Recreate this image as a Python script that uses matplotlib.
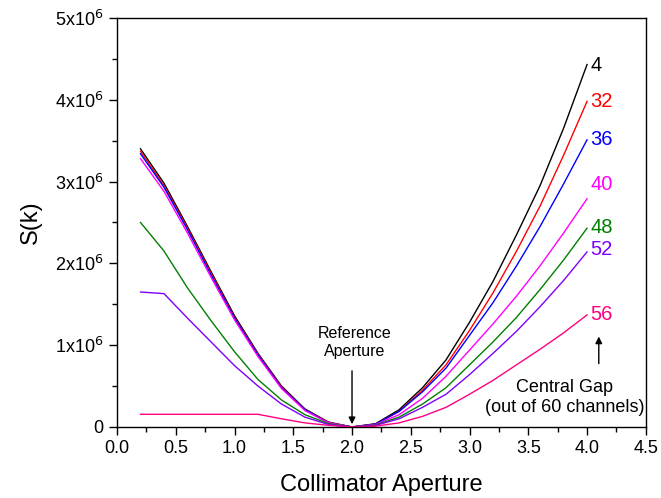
import matplotlib
matplotlib.use("Agg")
import matplotlib.pyplot as plt
from matplotlib.ticker import MultipleLocator, FuncFormatter

plt.rcParams['font.family'] = ['Liberation Sans', 'DejaVu Sans']

aperture = [0.2, 0.4, 0.6, 0.8, 1.0, 1.2, 1.4, 1.6, 1.8, 2.0,
            2.2, 2.4, 2.6, 2.8, 3.0, 3.2, 3.4, 3.6, 3.8, 4.0]

# S(k) in units of 1e6, one list per central gap size
gap_4 = [3.40, 2.98, 2.45, 1.90, 1.36, 0.90, 0.50, 0.22, 0.06, 0.0,
         0.04, 0.21, 0.48, 0.82, 1.28, 1.78, 2.35, 2.95, 3.65, 4.43]
gap_32 = [3.37, 2.95, 2.43, 1.88, 1.34, 0.89, 0.49, 0.21, 0.055, 0.0,
          0.035, 0.19, 0.45, 0.76, 1.18, 1.64, 2.15, 2.70, 3.32, 3.98]
gap_36 = [3.34, 2.93, 2.41, 1.86, 1.33, 0.88, 0.48, 0.21, 0.05, 0.0,
          0.035, 0.19, 0.43, 0.72, 1.12, 1.52, 1.97, 2.45, 2.97, 3.51]
gap_40 = [3.28, 2.88, 2.37, 1.83, 1.31, 0.86, 0.47, 0.20, 0.05, 0.0,
          0.03, 0.15, 0.35, 0.62, 0.94, 1.26, 1.60, 1.97, 2.37, 2.79]
gap_48 = [2.50, 2.15, 1.70, 1.30, 0.92, 0.58, 0.33, 0.15, 0.04, 0.0,
          0.025, 0.12, 0.28, 0.48, 0.76, 1.04, 1.34, 1.68, 2.04, 2.43]
gap_52 = [1.65, 1.63, 1.33, 1.04, 0.75, 0.50, 0.28, 0.12, 0.03, 0.0,
          0.02, 0.10, 0.24, 0.40, 0.64, 0.90, 1.17, 1.47, 1.79, 2.14]
gap_56 = [0.155, 0.155, 0.155, 0.155, 0.155, 0.155, 0.10, 0.05, 0.02, 0.0,
          0.01, 0.05, 0.13, 0.24, 0.40, 0.57, 0.76, 0.95, 1.15, 1.37]

labels = ['4', '32', '36', '40', '48', '52', '56']
series = [gap_4, gap_32, gap_36, gap_40, gap_48, gap_52, gap_56]
colors = ['#000000', '#ff0000', '#0000ff', '#ff00ff', '#008000', '#8000ff', '#ff0080']
label_y = [4.42, 3.98, 3.51, 2.96, 2.44, 2.17, 1.38]

fig = plt.figure(figsize=(6.61, 4.98), dpi=100)
ax = fig.add_axes([0.177, 0.1426, 0.8, 0.8214])

for vals, c, lab, ly in zip(series, colors, labels, label_y):
    ax.plot(aperture, [v * 1e6 for v in vals], color=c, lw=1.0)
    ax.text(4.03, ly * 1e6, lab, color=c, fontsize=14.5, ha='left', va='center')

ax.set_xlim(0, 4.5)
ax.set_ylim(0, 5e6)
ax.xaxis.set_major_locator(MultipleLocator(0.5))
ax.xaxis.set_minor_locator(MultipleLocator(0.25))
ax.yaxis.set_major_locator(MultipleLocator(1e6))
ax.yaxis.set_minor_locator(MultipleLocator(5e5))


def sci(v, pos):
    if v == 0:
        return '0'
    return r'%dx10$^{6}$' % round(v / 1e6)


ax.yaxis.set_major_formatter(FuncFormatter(sci))
ax.xaxis.set_major_formatter(FuncFormatter(lambda v, pos: '%.1f' % v))
ax.tick_params(which='both', direction='out', top=False, right=False, labelsize=13, width=1.0)
ax.tick_params(which='major', length=6)
ax.tick_params(which='minor', length=3.5)
for s in ax.spines.values():
    s.set_linewidth(1.0)

ax.set_xlabel('Collimator Aperture', fontsize=17, labelpad=12)
ax.set_ylabel('S(k)', fontsize=17, labelpad=10)

ax.annotate('', xy=(2.0, 0), xytext=(2.0, 0.72e6),
            arrowprops=dict(arrowstyle='-|>', color='black', lw=1.0, mutation_scale=10))
ax.text(2.02, 1.03e6, 'Reference\nAperture', ha='center', va='center', fontsize=11.5,
        linespacing=1.25)

ax.annotate('', xy=(4.1, 1.14e6), xytext=(4.1, 0.74e6),
            arrowprops=dict(arrowstyle='-|>', color='black', lw=1.0, mutation_scale=10))
ax.text(3.81, 0.36e6, 'Central Gap\n(out of 60 channels)', ha='center', va='center', fontsize=13,
        linespacing=1.17)

fig.savefig('out.png', dpi=100)
